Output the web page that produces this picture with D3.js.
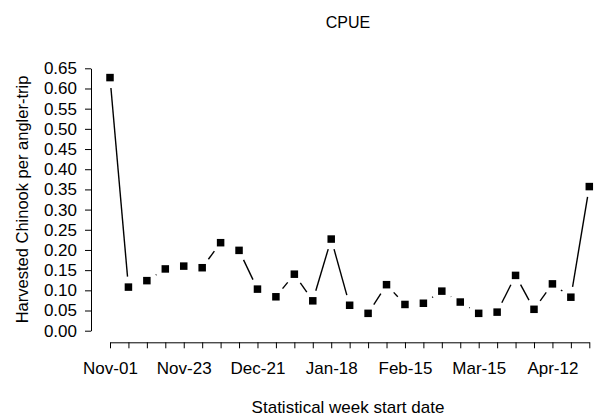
<!DOCTYPE html>
<html lang="en">
    <head>
        <meta charset="utf-8">
        <title>CPUE</title>
        <script src="https://d3js.org/d3.v7.min.js"></script>
        <style>
            body { margin: 0; background: #fff; }
            text { font-family: "Liberation Sans", Arial, sans-serif; fill: #000; }
            .axis path, .axis line { stroke: #000; stroke-width: 1px; }
        </style>
    </head>
    <body>
        <script type="text/javascript">

            var outerWidth = 595;
            var outerHeight = 416;

            // statistical week start dates (only every 4th is labelled on the axis)
            var weekStarts = ["Nov-01", "Nov-02", "Nov-09", "Nov-16", "Nov-23", "Nov-30",
                              "Dec-07", "Dec-14", "Dec-21", "Dec-28", "Jan-04", "Jan-11",
                              "Jan-18", "Jan-25", "Feb-01", "Feb-08", "Feb-15", "Feb-22",
                              "Mar-01", "Mar-08", "Mar-15", "Mar-22", "Mar-29", "Apr-05",
                              "Apr-12", "Apr-19", "Apr-26"];
            var labelledWeeks = ["Nov-01", "Nov-23", "Dec-21", "Jan-18", "Feb-15", "Mar-15", "Apr-12"];

            // harvested chinook per angler-trip
            var cpue = [0.627, 0.108, 0.124, 0.153, 0.160, 0.156, 0.218, 0.199, 0.103,
                        0.084, 0.140, 0.074, 0.227, 0.063, 0.043, 0.114, 0.065, 0.068,
                        0.098, 0.071, 0.043, 0.046, 0.137, 0.053, 0.116, 0.083, 0.357];

            var yTicks = d3.range(0, 14).map(i => i * 0.05);

            var svg = d3.select("body")
                        .append("svg")
                        .attr("width", outerWidth)
                        .attr("height", outerHeight);

            var xScale = d3.scalePoint()
                            .domain(weekStarts)
                            .range([110, 589.3]);

            var yScale = d3.scaleLinear()
                            .domain([0, 0.65])
                            .range([330.7, 68.3]);

            // y axis, R style: line only spans first to last tick
            var yAxis = svg.append("g")
                .attr("class", "axis")
                .attr("transform", "translate(91,0)")
                .call(d3.axisLeft(yScale)
                        .tickValues(yTicks)
                        .tickFormat(d3.format(".2f"))
                        .tickSize(6)
                        .tickSizeOuter(0)
                        .tickPadding(8));
            yAxis.selectAll("text").style("font-size", "17px");

            var xAxis = svg.append("g")
                .attr("class", "axis")
                .attr("transform", "translate(0,342.3)")
                .call(d3.axisBottom(xScale)
                        .tickFormat(d => labelledWeeks.indexOf(d) >= 0 ? d : "")
                        .tickSize(6)
                        .tickSizeOuter(0)
                        .tickPadding(14));
            xAxis.selectAll("text").style("font-size", "17px");

            // lines between points with a gap around each marker (type = "b")
            var gap = 10.5;
            var pts = cpue.map((v, i) => [xScale(weekStarts[i]), yScale(v)]);
            var segs = [];
            for (var i = 1; i < pts.length; i++) {
                var dx = pts[i][0] - pts[i-1][0],
                    dy = pts[i][1] - pts[i-1][1];
                var len = Math.sqrt(dx * dx + dy * dy);
                if (len > 2 * gap) {
                    segs.push({
                        x1: pts[i-1][0] + dx / len * gap, y1: pts[i-1][1] + dy / len * gap,
                        x2: pts[i][0] - dx / len * gap,   y2: pts[i][1] - dy / len * gap
                    });
                }
            }

            svg.selectAll("line.seg")
                .data(segs)
                .enter()
                .append("line")
                .attr("class", "seg")
                .attr("x1", d => d.x1)
                .attr("y1", d => d.y1)
                .attr("x2", d => d.x2)
                .attr("y2", d => d.y2)
                .attr("stroke", "#000")
                .attr("stroke-width", 1.4);

            var sq = 7.5;
            svg.selectAll("rect.pt")
                .data(cpue)
                .enter()
                .append("rect")
                .attr("class", "pt")
                .attr("x", (d, i) => xScale(weekStarts[i]) - sq / 2)
                .attr("y", d => yScale(d) - sq / 2)
                .attr("width", sq)
                .attr("height", sq)
                .attr("fill", "#000");

            svg.append("text")
                .attr("x", 348)
                .attr("y", 28)
                .attr("text-anchor", "middle")
                .style("font-size", "16px")
                .text("CPUE");

            svg.append("text")
                .attr("x", 348)
                .attr("y", 413)
                .attr("text-anchor", "middle")
                .style("font-size", "17px")
                .text("Statistical week start date");

            svg.append("text")
                .attr("transform", "translate(28,199.5) rotate(-90)")
                .attr("text-anchor", "middle")
                .style("font-size", "16.5px")
                .text("Harvested Chinook per angler-trip");

        </script>
    </body>
</html>
